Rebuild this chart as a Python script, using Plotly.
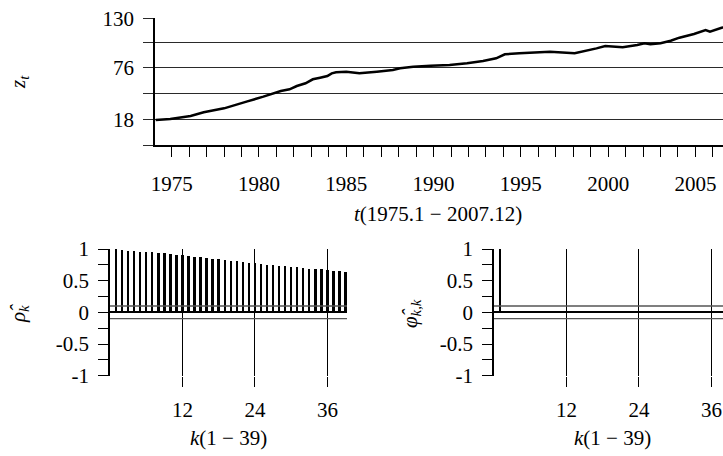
import plotly.graph_objects as go

# ---------------- data ----------------
# top panel: monthly index t (1 = 1975.1 ... 396 = 2007.12) and series value
month_idx = [1, 11, 25, 34, 48, 59, 64, 75, 87, 93, 98, 104, 109, 114, 119, 122, 125,
             132, 141, 153, 164, 169, 178, 190, 203, 215, 226, 235, 241, 251, 263, 272,
             289, 297, 304, 310, 322, 332, 337, 341, 348, 355, 361, 371, 379, 382, 390, 396]
z_values = [17.6, 18.7, 22.0, 26.1, 30.5, 35.3, 38.2, 43.4, 49.7, 51.5, 55.2, 58.2, 62.6,
            64.4, 66.2, 69.2, 70.3, 71.0, 69.2, 71.0, 72.9, 74.7, 76.5, 77.6, 78.4, 80.3,
            82.8, 85.8, 90.2, 91.3, 92.4, 93.1, 91.3, 93.9, 96.8, 99.4, 98.0, 100.5, 102.4,
            101.3, 102.4, 105.2, 108.6, 112.7, 117.1, 115.2, 119.6, 121.0]

year_tick_t = [12 * i for i in range(1, 33)]
year_tick_labels = [str(1974 + i) if (1974 + i) % 5 == 0 and (1974 + i) <= 2005 else " "
                    for i in range(1, 33)]

z_tickvals = [-10, 18, 47, 76, 103, 130]
z_ticktext = [" ", "18", " ", "76", " ", "130"]

# bottom panels: lags, sample ACF and PACF
lags = list(range(1, 40))
acf_values = [0.995, 0.984, 0.973, 0.968, 0.957, 0.953, 0.948, 0.937, 0.932, 0.921,
              0.910, 0.900, 0.885, 0.874, 0.869, 0.858, 0.847, 0.837, 0.826, 0.815,
              0.804, 0.794, 0.784, 0.774, 0.763, 0.753, 0.747, 0.737, 0.726, 0.716,
              0.711, 0.700, 0.690, 0.684, 0.679, 0.668, 0.658, 0.653, 0.642]
pacf_values = [0.995, 0.004, -0.003, 0.002, 0.003, -0.002, 0.001, 0.002, -0.001, 0.003,
               0.002, -0.004, 0.001, 0.002, 0.003, -0.002, 0.008, 0.001, -0.002, 0.006,
               0.001, -0.001, 0.002, 0.001, -0.002, 0.001, 0.002, -0.001, 0.001, 0.002,
               -0.001, 0.001, 0.002, -0.001, 0.001, 0.001, -0.002, 0.001, 0.001]
conf_band = 0.1  # approx 2/sqrt(n)
lag_tickvals = [12, 24, 36]
lag_ticktext = ["12", "24", "36"]
corr_tickvals = [-1, -0.5, 0, 0.5, 1]
corr_ticktext = ["-1", "-0.5", "0", "0.5", "1"]
corr_minor = [-0.75, -0.25, 0.25, 0.75]

# ---------------- figure ----------------
W, H = 723, 456
FONT = "Liberation Serif, Times New Roman, DejaVu Serif, serif"
FS = 21

def px_x(p):
    return p / W

def px_y(p):
    return 1 - p / H

fig = go.Figure()
fig.add_trace(go.Scatter(x=month_idx, y=z_values, mode="lines",
                         line=dict(color="black", width=2.5),
                         xaxis="x", yaxis="y", showlegend=False))
fig.add_trace(go.Bar(x=lags, y=acf_values, width=0.4, marker_color="black",
                     marker_line_width=0, xaxis="x2", yaxis="y2", showlegend=False))
fig.add_trace(go.Bar(x=lags, y=pacf_values, width=0.4, marker_color="black",
                     marker_line_width=0, xaxis="x3", yaxis="y3", showlegend=False))

tickfont = dict(family=FONT, size=FS, color="black")

common_x = dict(tickmode="array", ticks="outside", ticklen=10, tickcolor="black",
                tickwidth=1, tickangle=0, automargin=False, zeroline=False,
                tickfont=tickfont)

fig.update_layout(
    template="none",
    width=W, height=H,
    margin=dict(l=0, r=0, t=0, b=0, pad=0),
    paper_bgcolor="white", plot_bgcolor="white",
    font=dict(family=FONT, size=FS, color="black"),
    bargap=0,
    xaxis=dict(domain=[px_x(155), 1], range=[0.52, 390.95], anchor="y",
               tickvals=year_tick_t, ticktext=year_tick_labels,
               showline=True, linecolor="black", linewidth=1.5,
               showgrid=False, ticklabelstandoff=9, **common_x),
    yaxis=dict(domain=[px_y(145), px_y(18.3)], range=[-10, 130], anchor="x", automargin=False,
               tickmode="array", tickvals=z_tickvals, ticktext=z_ticktext,
               ticks="outside", ticklen=10, tickcolor="#2a2a2a", tickwidth=1,
               showgrid=True, gridcolor="#2a2a2a", gridwidth=1,
               showline=True, linecolor="black", linewidth=1.5,
               zeroline=False, tickfont=tickfont, ticklabelstandoff=5),
    xaxis2=dict(domain=[px_x(110), px_x(347)], range=[0, 39.25], anchor="y2",
                tickvals=lag_tickvals, ticktext=lag_ticktext,
                showline=False, showgrid=True, gridcolor="black", gridwidth=1,
                ticklabelstandoff=5, **common_x),
    yaxis2=dict(domain=[px_y(375.7), px_y(249)], range=[-1, 1], anchor="x2", automargin=False,
                tickmode="array", tickvals=corr_tickvals, ticktext=corr_ticktext,
                ticks="outside", ticklen=10, tickcolor="black",
                minor=dict(tickvals=corr_minor, ticks="outside", ticklen=10,
                           tickcolor="black", showgrid=False),
                showline=True, linecolor="black", linewidth=1.5,
                showgrid=False, zeroline=True, zerolinecolor="black", zerolinewidth=1.8,
                tickfont=tickfont, ticklabelstandoff=5),
    xaxis3=dict(domain=[px_x(494), 1], range=[0, 37.91], anchor="y3",
                tickvals=lag_tickvals, ticktext=lag_ticktext,
                showline=False, showgrid=True, gridcolor="black", gridwidth=1,
                ticklabelstandoff=5, **common_x),
    yaxis3=dict(domain=[px_y(375.7), px_y(249)], range=[-1, 1], anchor="x3", automargin=False,
                tickmode="array", tickvals=corr_tickvals, ticktext=corr_ticktext,
                ticks="outside", ticklen=10, tickcolor="black",
                minor=dict(tickvals=corr_minor, ticks="outside", ticklen=10,
                           tickcolor="black", showgrid=False),
                showline=True, linecolor="black", linewidth=1.5,
                showgrid=False, zeroline=True, zerolinecolor="black", zerolinewidth=1.8,
                tickfont=tickfont, ticklabelstandoff=5),
)

# confidence band lines
for xr, yr in (("x2", "y2"), ("x3", "y3")):
    for sgn in (1, -1):
        fig.add_shape(type="line", xref=f"{xr} domain", yref=yr,
                      x0=0, x1=1, y0=sgn * conf_band, y1=sgn * conf_band,
                      line=dict(color="#555555", width=1.3), layer="above")

# axis titles as annotations
def title(text, x, y, angle=0):
    fig.add_annotation(text=text, x=px_x(x), y=px_y(y), xref="paper", yref="paper",
                       showarrow=False, textangle=angle, xanchor="center", yanchor="middle",
                       font=dict(family=FONT, size=FS, color="black"))

title("<i>z</i><sub><i>t</i></sub>", 19, 82, -90)
title("<i>t</i>(1975.1 − 2007.12)", 438, 214)
title("<i>ρ̂</i><sub><i>k</i></sub>", 19, 314, -90)
title("<i>k</i>(1 − 39)", 228, 438)
title("<i>φ̂</i><sub><i>k,k</i></sub>", 411, 314, -90)
title("<i>k</i>(1 − 39)", 612, 438)

fig.write_html("out.html", config={"displayModeBar": False},
               post_script="document.body.style.margin='0px';document.body.style.overflow='hidden';")
